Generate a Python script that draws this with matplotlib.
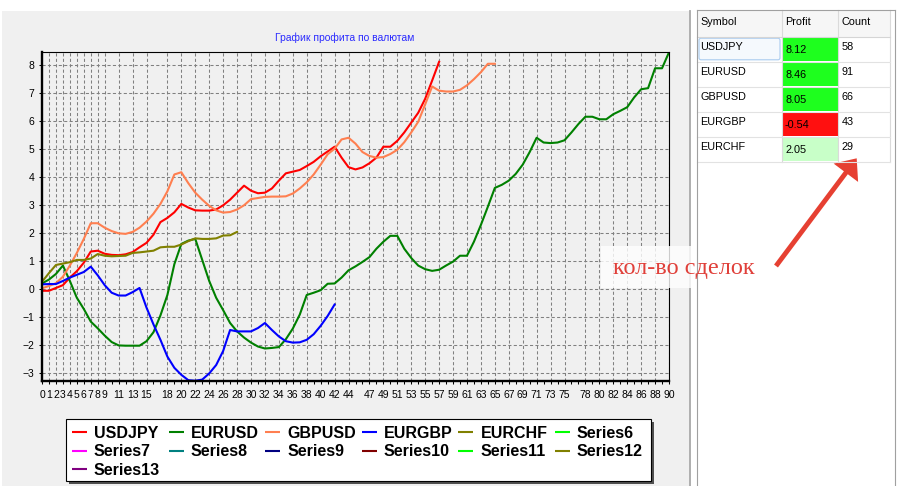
import matplotlib
matplotlib.use("Agg")
import matplotlib.pyplot as plt
from matplotlib.patches import Rectangle, FancyArrowPatch, FancyBboxPatch

plt.rcParams['font.family'] = ['Liberation Sans', 'DejaVu Sans']

# размеры картинки в пикселях
W, H = 905, 486

# профит по каждой валюте (одна точка на сделку)
usdjpy = [-0.05, -0.05, 0.05, 0.15, 0.42, 0.65, 0.95, 1.35, 1.38, 1.27,
          1.23, 1.22, 1.25, 1.33, 1.5, 1.66, 1.95, 2.4, 2.55, 2.75,
          3.05, 2.92, 2.82, 2.81, 2.81, 2.85, 3.0, 3.2, 3.45, 3.7,
          3.52, 3.43, 3.45, 3.6, 3.88, 4.14, 4.2, 4.26, 4.4, 4.55,
          4.75, 4.92, 5.09, 4.7, 4.36, 4.28, 4.35, 4.5, 4.7, 5.09,
          5.09, 5.3, 5.6, 5.95, 6.3, 6.8, 7.45, 8.12]
eurusd = [0.21, 0.35, 0.55, 0.85, 0.3, -0.3, -0.7, -1.15, -1.39, -1.65,
          -1.88, -2.0, -2.01, -2.01, -2.01, -1.85, -1.53, -0.93, -0.2, 0.9,
          1.62, 1.74, 1.8, 1.05, 0.3, -0.3, -0.74, -1.2, -1.5, -1.72,
          -1.9, -2.04, -2.11, -2.09, -2.06, -1.78, -1.4, -0.9, -0.2, -0.12,
          -0.03, 0.2, 0.21, 0.42, 0.68, 0.82, 0.98, 1.15, 1.45, 1.7,
          1.91, 1.91, 1.45, 1.12, 0.85, 0.72, 0.66, 0.7, 0.85, 0.99,
          1.2, 1.2, 1.7, 2.3, 2.95, 3.62, 3.73, 3.88, 4.12, 4.45,
          4.9, 5.41, 5.24, 5.22, 5.24, 5.32, 5.6, 5.9, 6.16, 6.16,
          6.07, 6.07, 6.25, 6.37, 6.5, 6.85, 7.14, 7.18, 7.89, 7.89,
          8.46]
gbpusd = [0.04, 0.12, 0.22, 0.45, 0.85, 1.3, 1.8, 2.36, 2.36, 2.2,
          2.08, 2.0, 1.98, 2.05, 2.2, 2.42, 2.7, 3.05, 3.5, 4.1,
          4.18, 3.79, 3.45, 3.2, 2.98, 2.82, 2.74, 2.76, 2.85, 3.0,
          3.22, 3.26, 3.3, 3.31, 3.31, 3.32, 3.42, 3.6, 3.82, 4.1,
          4.45, 4.82, 5.02, 5.35, 5.41, 5.2, 4.9, 4.76, 4.7, 4.72,
          4.83, 4.98, 5.25, 5.6, 5.98, 6.6, 7.24, 7.09, 7.06, 7.06,
          7.12, 7.28, 7.5, 7.75, 8.05, 8.05]
eurgbp = [0.18, 0.19, 0.19, 0.3, 0.42, 0.52, 0.62, 0.81, 0.5, 0.15,
          -0.12, -0.22, -0.22, -0.1, 0.05, -0.65, -1.25, -1.8, -2.4, -2.8,
          -3.05, -3.24, -3.26, -3.22, -3.0, -2.7, -2.2, -1.45, -1.5, -1.5,
          -1.5, -1.38, -1.2, -1.45, -1.68, -1.85, -1.9, -1.89, -1.8, -1.6,
          -1.3, -0.95, -0.54]
eurchf = [0.27, 0.58, 0.87, 0.92, 0.97, 1.05, 1.05, 1.1, 1.26, 1.2,
          1.18, 1.19, 1.2, 1.3, 1.32, 1.35, 1.38, 1.5, 1.52, 1.52,
          1.6, 1.72, 1.82, 1.8, 1.8, 1.82, 1.92, 1.93, 2.05]

series = [usdjpy, eurusd, gbpusd, eurgbp, eurchf]
series_colors = ['#FF0000', '#008000', '#FF7F50', '#0000FF', '#808000']

# легенда (все 13 серий, из них 5 с данными)
legend_names = ['USDJPY', 'EURUSD', 'GBPUSD', 'EURGBP', 'EURCHF', 'Series6',
                'Series7', 'Series8', 'Series9', 'Series10', 'Series11', 'Series12',
                'Series13']
legend_colors = ['#FF0000', '#008000', '#FF7F50', '#0000FF', '#808000', '#00FF00',
                 '#FF00FF', '#008080', '#000080', '#800000', '#00FF00', '#808000',
                 '#800080']

# подписи по оси X
x_labels = list(range(0, 10)) + [11, 13, 15] + list(range(18, 45, 2)) \
    + list(range(47, 76, 2)) + list(range(78, 91, 2))

# таблица справа
symbols = ['USDJPY', 'EURUSD', 'GBPUSD', 'EURGBP', 'EURCHF']
profits = [8.12, 8.46, 8.05, -0.54, 2.05]
counts = [58, 91, 66, 43, 29]
profit_colors = ['#1EFF1E', '#1EFF1E', '#1EFF1E', '#FF1010', '#C8FFC8']
headers = ['Symbol', 'Profit', 'Count']

title = 'График профита по валютам'
note = 'кол-во сделок'

fig = plt.figure(figsize=(W / 100, H / 100), dpi=100)
fig.patch.set_facecolor('white')

# фон формы
bg = fig.add_axes([0, 0, 1, 1], zorder=0)
bg.set_xlim(0, W)
bg.set_ylim(H, 0)
bg.axis('off')
bg.add_patch(Rectangle((2, 11), 687, H - 11, facecolor='#F0F0F0', edgecolor='none'))
bg.plot([689.5, 689.5], [11, H], color='#A8A8A8', lw=1.3)
bg.text(345, 38, title, color='#2B2BFF', fontsize=7.5, ha='center', va='center')

# график
ax = fig.add_axes([42 / W, (H - 381) / H, 627 / W, 329 / H], zorder=1)
ax.set_facecolor('#F0F0F0')
for vals, col in zip(series, series_colors):
    ax.plot(range(len(vals)), vals, color=col, lw=1.5)
ax.set_xlim(0, 90)
ax.set_ylim(-3.27, 8.47)
ax.set_xticks(x_labels)
ax.set_xticklabels([str(t) for t in x_labels])
ax.set_xticks(range(91), minor=True)
ax.set_yticks(range(-3, 9))
ax.set_axisbelow(True)
ax.grid(True, which='major', color='#808080', lw=0.75, linestyle=(0, (3, 2.2)))
ax.tick_params(axis='both', which='both', direction='out', length=2.2, width=0.75,
               labelsize=7.5, color='black')
ax.tick_params(axis='x', pad=4)
ax.tick_params(axis='y', pad=3.5)
for s in ['left', 'bottom']:
    ax.spines[s].set_linewidth(1.7)
for s in ['top', 'right']:
    ax.spines[s].set_linewidth(0.8)

# верхний слой: легенда, таблица, стрелка
ov = fig.add_axes([0, 0, 1, 1], zorder=3)
ov.set_xlim(0, W)
ov.set_ylim(H, 0)
ov.axis('off')
ov.patch.set_alpha(0)

# легенда
ov.add_patch(Rectangle((69, 422), 585, 62, facecolor='#505050', edgecolor='none'))
ov.add_patch(Rectangle((66, 419), 585, 62, facecolor='white', edgecolor='black', lw=0.8))
col_x = [72 + 96.6 * k for k in range(6)]
row_y = [437.5, 456.3, 475.0]
for k, (name, col) in enumerate(zip(legend_names, legend_colors)):
    r, c = divmod(k, 6)
    x, y = col_x[c], row_y[r]
    ov.plot([x, x + 15], [y - 5.8, y - 5.8], color=col, lw=1.5, solid_capstyle='butt')
    ov.text(x + 22, y, name, fontsize=11.5, fontweight='bold', va='baseline', ha='left')

# таблица
tx0, tx1, tx2, tx3, tx4 = 697, 782, 838, 890, 895
top, head_bot, row_h = 10, 36.7, 25
ov.add_patch(Rectangle((tx0, top), tx3 - tx0, head_bot - top, facecolor='#F6F6F6',
                       edgecolor='none'))
for xx in [tx1, tx2, tx3]:
    ov.plot([xx, xx], [top, head_bot + row_h * len(symbols)], color='#DADADA', lw=0.8)
for j in range(len(symbols)):
    y0 = head_bot + j * row_h
    ov.add_patch(Rectangle((tx1 + 0.5, y0 + 0.5), tx2 - tx1 - 1, row_h - 1,
                           facecolor=profit_colors[j], edgecolor='none'))
    ov.plot([tx0, tx3], [y0 + row_h, y0 + row_h], color='#E2E2E2', lw=0.8)
ov.plot([tx0, tx3], [head_bot, head_bot], color='#D5D5D5', lw=0.8)
ov.add_patch(FancyBboxPatch((699, 38.2), 81, 21.6, boxstyle='round,pad=0,rounding_size=2',
                            facecolor='#F5F9FD', edgecolor='#A8CBEF', lw=0.8))
ov.plot([tx0, tx0], [top, H], color='#A0A0A0', lw=0.8)
ov.plot([tx4, tx4], [top, H], color='#A0A0A0', lw=0.8)
ov.plot([tx0, tx4], [top, top], color='#A0A0A0', lw=0.8)

hx = [700, 785, 841.5]
for xx, h in zip(hx, headers):
    ov.text(xx, 25.2, h, fontsize=7.8, va='baseline', ha='left')
for j in range(len(symbols)):
    y0 = head_bot + j * row_h
    ov.text(hx[0], y0 + 13.3, symbols[j], fontsize=7.8, va='baseline')
    ov.text(hx[1], y0 + 16.6, f'{profits[j]:.2f}', fontsize=7.8, va='baseline')
    ov.text(hx[2], y0 + 13.3, str(counts[j]), fontsize=7.8, va='baseline')

# подпись и стрелка
ov.add_patch(Rectangle((601, 246), 99, 42, facecolor='white', edgecolor='none', alpha=0.8))
ov.text(613, 274, note, fontsize=17.5, color='#E0403A', family='Liberation Serif',
        va='baseline', ha='left')
arrow = FancyArrowPatch((776, 266), (856.7, 158.3), shrinkA=0, shrinkB=0,
                        arrowstyle='simple,head_length=13,head_width=22,tail_width=3.5',
                        mutation_scale=1, facecolor='#E64032', edgecolor='none')
ov.add_patch(arrow)

fig.savefig('out.png', dpi=100)
